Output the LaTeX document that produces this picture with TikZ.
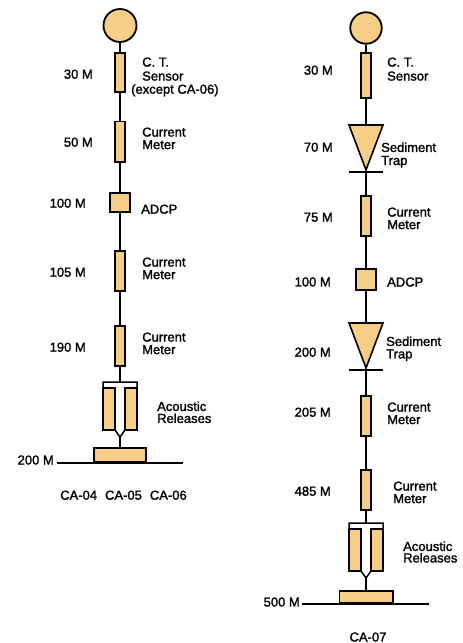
\documentclass[tikz,border=0pt]{standalone}
\usepackage{fontspec}
\setmainfont{Liberation Sans}
\newfontfamily\labelfont{Liberation Sans}[FakeBold=1.6]
\definecolor{tanfill}{RGB}{246,206,134}
\begin{document}
\begin{tikzpicture}[x=1pt,y=-1pt,
  part/.style={draw=black, fill=tanfill, line width=1.8pt, inner sep=0pt},
  inst/.style={part, rectangle, minimum width=10.2pt, minimum height=40.2pt},
  buoy/.style={part, circle},
  sq/.style={part, rectangle, minimum width=20.2pt, minimum height=20.2pt},
  anchorblock/.style={part, rectangle, minimum height=14pt},
  mooring/.style={draw=black, line width=1.9pt},
  ground/.style={draw=black, line width=1.6pt},
  txt/.style={inner sep=0pt, font=\labelfont\fontsize{13}{12.5}\selectfont},
  depth/.style={txt, anchor=base east},
  desc/.style={txt, anchor=north west, align=left},
  acoustic/.pic={
    \draw[line width=1.5pt, fill=white] (-17,0) -- (17,0) -- (17,6) -- (5,6) -- (5,48) -- (0,55) -- (-5,48) -- (-5,6) -- (-17,6) -- cycle;
    \draw[line width=1.5pt, fill=tanfill] (-17,6) rectangle (-5,48);
    \draw[line width=1.5pt, fill=tanfill] (5,6) rectangle (17,48);
    \coordinate (-top) at (0,0);
    \coordinate (-bot) at (0,55);
  },
  traptri/.style={draw=black, fill=tanfill, line width=1.6pt, line join=miter}
]
\useasboundingbox (0,0) rectangle (463,643);

% ---------------- Left mooring (CA-04, CA-05, CA-06) ----------------
\node[buoy, minimum size=33pt] (bL) at (120,25.5) {};
\node[inst, minimum height=39.2pt] (ctL) at (120,72.5) {};
\node[inst] (cm1L) at (120,141.5) {};
\node[sq, minimum height=19.2pt] (adL) at (120,202.5) {};
\node[inst] (cm2L) at (120,271) {};
\node[inst] (cm3L) at (120,346) {};
\pic (arL) at (120,382) {acoustic};
\node[anchorblock, minimum width=52.2pt, minimum height=14.2pt] (anL) at (120,455) {};
\coordinate (gLa) at (57,463);
\coordinate (gLb) at (183,463);

\draw[mooring] (bL) -- (ctL) -- (cm1L) -- (adL) -- (cm2L) -- (cm3L) -- (arL-top);
\draw[mooring] (arL-bot) -- (anL);
\draw[ground] (gLa) -- (gLb);

\node[depth] (dL1) at (93,78.7) {30 M};
\node[depth] (dL2) at (93,146.7) {50 M};
\node[depth] (dL3) at (86,207.7) {100 M};
\node[depth] (dL4) at (86,276.7) {105 M};
\node[depth] (dL5) at (86,351.7) {190 M};
\node[depth] (dL6) at (54,464.5) {200 M};

\node[desc] (tL1) at (142,57.3) {C. T.\\[1.5pt]Sensor};
\node[txt, anchor=base west] (tL1b) at (131,93.7) {(except CA-06)};
\node[desc] (tL2) at (142,127.3) {Current\\Meter};
\node[txt, anchor=base west] (tL3) at (141,213.7) {ADCP};
\node[desc] (tL4) at (142,257.3) {Current\\Meter};
\node[desc] (tL5) at (142,332.3) {Current\\Meter};
\node[desc] (tL6) at (157,401.3) {Acoustic\\[-0.5pt]Releases};

\node[txt, anchor=base] (nameL) at (123.5,499.7) {CA-04\hspace{8pt}CA-05\hspace{8pt}CA-06};

% ---------------- Right mooring (CA-07) ----------------
\node[buoy, minimum size=31.5pt] (bR) at (366,28) {};
\node[inst, minimum height=45.2pt] (ctR) at (366,75.5) {};
\coordinate (t1top) at (366,125);
\coordinate (t1bar) at (366,172);
\draw[traptri] (349,125) -- (383,125) -- (366,170) -- cycle;
\draw[ground] (349,172) -- (383,172);
\node[inst] (cm1R) at (366,216) {};
\node[sq, minimum height=21.2pt] (adR) at (366,279.5) {};
\coordinate (t2top) at (366,323);
\coordinate (t2bar) at (366,370);
\draw[traptri] (349,323) -- (383,323) -- (366,368) -- cycle;
\draw[ground] (349,370) -- (383,370);
\node[inst] (cm2R) at (366,416) {};
\node[inst] (cm3R) at (366,490) {};
\pic (arR) at (366,523) {acoustic};
\node[anchorblock, minimum width=53.2pt, minimum height=12.2pt] (anR) at (366,597) {};
\coordinate (gRa) at (302,604);
\coordinate (gRb) at (429,604);

\draw[mooring] (bR) -- (ctR) -- (t1top);
\draw[mooring] (t1bar) -- (cm1R) -- (adR) -- (t2top);
\draw[mooring] (t2bar) -- (cm2R) -- (cm3R) -- (arR-top);
\draw[mooring] (arR-bot) -- (anR);
\draw[ground] (gRa) -- (gRb);

\node[depth] (dR1) at (333,74.7) {30 M};
\node[depth] (dR2) at (333,151.7) {70 M};
\node[depth] (dR3) at (333,221.7) {75 M};
\node[depth] (dR4) at (331,286.4) {100 M};
\node[depth] (dR5) at (331,356.7) {200 M};
\node[depth] (dR6) at (331,416.7) {205 M};
\node[depth] (dR7) at (331,495.7) {485 M};
\node[depth] (dR8) at (300,606.5) {500 M};

\node[desc] (tR1) at (387,57.3) {C. T.\\[1.5pt]Sensor};
\node[desc] (tR2) at (381,142.3) {Sediment\\[0.5pt]Trap};
\node[desc] (tR3) at (387,207.3) {Current\\Meter};
\node[txt, anchor=base west] (tR4) at (387,286.5) {ADCP};
\node[desc] (tR5) at (386,336.3) {Sediment\\Trap};
\node[desc] (tR6) at (387,402.3) {Current\\Meter};
\node[desc] (tR7) at (393,481.3) {Current\\Meter};
\node[desc] (tR8) at (403,541.3) {Acoustic\\[-1pt]Releases};

\node[txt, anchor=base] (nameR) at (368,641.5) {CA-07};
\end{tikzpicture}
\end{document}
